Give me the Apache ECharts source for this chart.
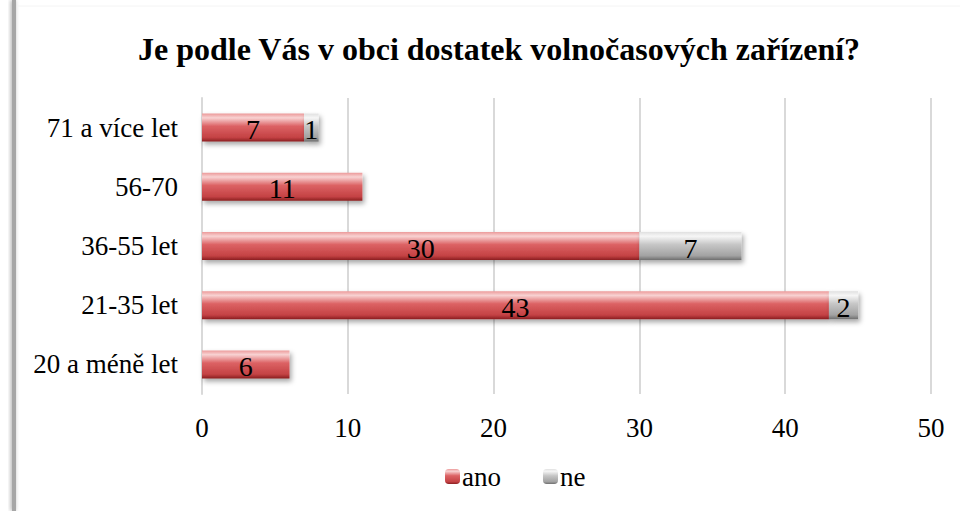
<!DOCTYPE html>
<html>
<head>
<meta charset="utf-8">
<script src="https://cdn.jsdelivr.net/npm/echarts@6/dist/echarts.min.js"></script>
<style>
  html, body { margin: 0; padding: 0; background: #fff; }
  #chart { width: 960px; height: 511px; }
</style>
</head>
<body>
<div id="chart"></div>
<script>
// categories from bottom to top
var categories = ['20 a méně let', '21-35 let', '36-55 let', '56-70', '71 a více let'];
var anoValues = [6, 43, 30, 11, 7];
var neValues = [0, 2, 7, 0, 1];
var xTicks = { min: 0, max: 50, interval: 10 };

var FONT = '"Liberation Serif", "Times New Roman", serif';

var myChart = echarts.init(document.getElementById('chart'), null, { renderer: 'svg' });

// 3d-ish vertical gradients like the original office chart
var redFill = new echarts.graphic.LinearGradient(0, 0, 0, 1, [
  { offset: 0, color: '#ec9a9a' },
  { offset: 0.15, color: '#f8d2d2' },
  { offset: 0.45, color: '#dc6264' },
  { offset: 0.85, color: '#c44244' },
  { offset: 1, color: '#8a1e20' }
]);
var grayFill = new echarts.graphic.LinearGradient(0, 0, 0, 1, [
  { offset: 0, color: '#e0e0e0' },
  { offset: 0.15, color: '#f6f6f6' },
  { offset: 0.45, color: '#c6c6c6' },
  { offset: 0.85, color: '#a2a2a2' },
  { offset: 1, color: '#6e6e6e' }
]);

function hideZero(p) {
  return p.value ? p.value : '';
}

var option = {
  animation: false,
  textStyle: { fontFamily: FONT },
  title: {
    text: 'Je podle Vás v obci dostatek volnočasových zařízení?',
    left: 133,
    top: 28,
    textStyle: { fontFamily: FONT, fontSize: 32, fontWeight: 'bold', color: '#000' }
  },
  legend: {
    bottom: 16,
    left: 440,
    itemWidth: 15,
    itemHeight: 15,
    itemGap: 42,
    textStyle: { fontFamily: FONT, fontSize: 27, color: '#000', padding: [0, 0, 0, -3] },
    data: [
      { name: 'ano', itemStyle: { color: redFill } },
      { name: 'ne', itemStyle: { color: grayFill } }
    ]
  },
  grid: {
    left: 202,
    right: 29,
    top: 98,
    height: 296
  },
  xAxis: {
    type: 'value',
    min: xTicks.min,
    max: xTicks.max,
    interval: xTicks.interval,
    axisLine: { show: false },
    axisTick: { show: false },
    axisLabel: { fontFamily: FONT, fontSize: 27, color: '#000', margin: 20 },
    splitLine: { lineStyle: { color: '#d9d9d9', width: 2 } }
  },
  yAxis: {
    type: 'category',
    data: categories,
    axisLine: { show: true, lineStyle: { color: '#d9d9d9', width: 2 } },
    axisTick: { show: false },
    axisLabel: { fontFamily: FONT, fontSize: 27, color: '#000', margin: 24 }
  },
  series: [
    {
      name: 'ano',
      type: 'bar',
      stack: 'total',
      barWidth: 28,
      data: anoValues,
      itemStyle: {
        color: redFill,
        shadowColor: 'rgba(0,0,0,0.35)',
        shadowBlur: 5,
        shadowOffsetY: 3,
        shadowOffsetX: 2
      },
      label: {
        show: true,
        position: 'inside',
        formatter: hideZero,
        fontFamily: FONT,
        fontSize: 28,
        color: '#000',
        offset: [0, 2]
      }
    },
    {
      name: 'ne',
      type: 'bar',
      stack: 'total',
      barWidth: 28,
      data: neValues,
      itemStyle: {
        color: grayFill,
        shadowColor: 'rgba(0,0,0,0.35)',
        shadowBlur: 5,
        shadowOffsetY: 3,
        shadowOffsetX: 2
      },
      label: {
        show: true,
        position: 'inside',
        formatter: hideZero,
        fontFamily: FONT,
        fontSize: 28,
        color: '#000',
        offset: [0, 2]
      }
    }
  ],
  graphic: [
    {
      // shadowed left edge of the chart frame
      type: 'rect',
      shape: { x: 12, y: 0, width: 4, height: 511 },
      style: {
        fill: '#a6a6a6',
        shadowColor: 'rgba(0,0,0,0.35)',
        shadowBlur: 4,
        shadowOffsetX: -1
      },
      silent: true
    },
    {
      type: 'line',
      shape: { x1: 17, y1: 6, x2: 960, y2: 6 },
      style: { stroke: '#f4f4f4', lineWidth: 1 },
      silent: true
    }
  ]
};

option && myChart.setOption(option);
</script>
</body>
</html>
